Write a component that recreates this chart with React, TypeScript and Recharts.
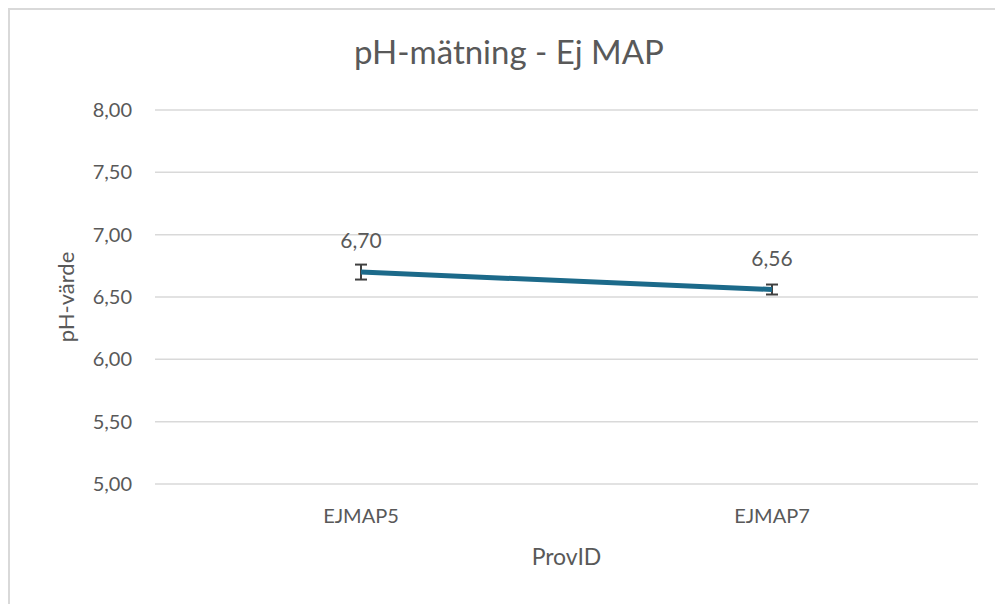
import React from "react";
import { LineChart, Line, XAxis, YAxis, CartesianGrid, ErrorBar, LabelList, Label } from "recharts";

const categories = ["EJMAP5", "EJMAP7"];
const phValues = [6.7, 6.56];
const phErrors = [0.06, 0.04];
const yTicks = [5, 5.5, 6, 6.5, 7, 7.5, 8];

const data = categories.map((name, i) => ({ name, ph: phValues[i], err: phErrors[i] }));

const FONT = "Lato, 'Open Sans', sans-serif";
const GRAY = "#595959";
const fmt = (v: number) => v.toFixed(2).replace(".", ",");

export default function App() {
  return (
    <div style={{ position: "absolute", left: 0, top: 0, width: 995, height: 604, background: "#fff", fontFamily: FONT }}>
      {/* frame */}
      <div style={{ position: "absolute", left: 8, top: 8, width: 995, height: 604, borderLeft: "2px solid #d9d9d9", borderTop: "2px solid #d9d9d9" }} />
      <div style={{ position: "absolute", left: 0, top: 31, width: 1018, textAlign: "center", fontSize: 33, lineHeight: "40px", color: GRAY }}>
        pH-mätning - Ej MAP
      </div>
      <div style={{ position: "absolute", left: 0, top: 0 }}>
        <LineChart width={995} height={604} data={data} margin={{ top: 110, right: 17, left: 0, bottom: 30 }}>
          <CartesianGrid vertical={false} stroke="#d9d9d9" strokeWidth={1.5} />
          <XAxis
            dataKey="name"
            height={90}
            padding={{ left: 206, right: 206 }}
            axisLine={false}
            tickLine={false}
            tickSize={0}
            tickMargin={25}
            tick={{ fill: GRAY, fontSize: 20, fontFamily: FONT }}
          >
            <Label
              content={({ viewBox }: any) => (
                <text x={viewBox.x + viewBox.width / 2} y={viewBox.y + 81} textAnchor="middle" fill={GRAY} fontSize={23} fontFamily={FONT}>
                  ProvID
                </text>
              )}
            />
          </XAxis>
          <YAxis
            width={155}
            domain={[5, 8]}
            ticks={yTicks}
            tickFormatter={fmt}
            axisLine={false}
            tickLine={false}
            tickSize={0}
            tickMargin={23}
            tick={{ fill: GRAY, fontSize: 20, fontFamily: FONT }}
          >
            <Label
              content={({ viewBox }: any) => {
                const cx = 74;
                const cy = viewBox.y + viewBox.height / 2;
                return (
                  <text x={cx} y={cy} transform={`rotate(-90 ${cx} ${cy})`} textAnchor="middle" fill={GRAY} fontSize={22} fontFamily={FONT}>
                    pH-värde
                  </text>
                );
              }}
            />
          </YAxis>
          <Line
            type="linear"
            dataKey="ph"
            stroke="#1C6A8A"
            strokeWidth={5}
            dot={false}
            isAnimationActive={false}
          >
            <ErrorBar dataKey="err" direction="y" width={6} strokeWidth={2} stroke="#404040" />
            <LabelList dataKey="ph" position="top" offset={24} formatter={(v: any) => fmt(Number(v))} fill={GRAY} fontSize={21} fontFamily={FONT} />
          </Line>
        </LineChart>
      </div>
    </div>
  );
}
